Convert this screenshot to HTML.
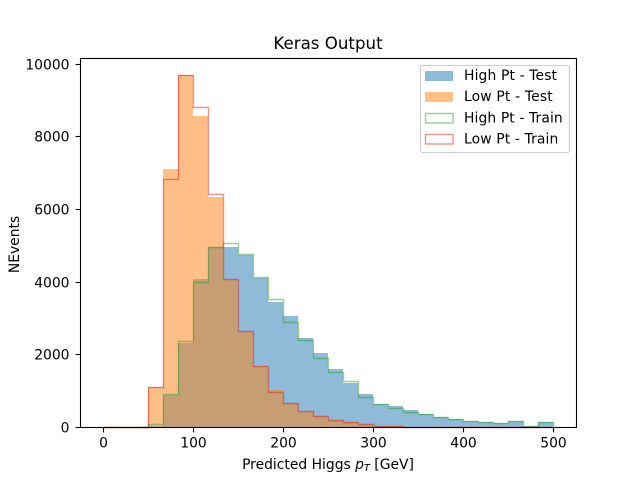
<!DOCTYPE html>
<html>
<head>
<meta charset="utf-8">
<style>
html,body{margin:0;padding:0;background:#fff;}
svg{display:block;}
text{font-family:"DejaVu Sans","Liberation Sans",sans-serif;fill:#000;}
</style>
</head>
<body>
<svg id="chart" xmlns="http://www.w3.org/2000/svg" width="640" height="480" viewBox="0 0 640 480">
  <rect x="0" y="0" width="640" height="480" fill="#fff"/>
  <g id="marks"></g>
  <g id="ticks"></g>
  <rect x="80.5" y="58.5" width="496" height="369" fill="none" stroke="#000" stroke-width="1.11"/>
  <text x="328" y="49" font-size="16.67" text-anchor="middle">Keras Output</text>
  <text x="328" y="469" font-size="13.89" text-anchor="middle">Predicted Higgs <tspan font-style="italic">p</tspan><tspan font-style="italic" font-size="9.7" dy="2">T</tspan><tspan dy="-2"> [GeV]</tspan></text>
  <text x="0" y="0" font-size="13.89" text-anchor="middle" transform="translate(19,244.5) rotate(-90)">NEvents</text>
  <g>
    <rect x="420.5" y="65.5" width="149" height="87" rx="2" fill="#fff" fill-opacity="0.8" stroke="#ccc" stroke-width="1.11"/>
    <rect x="425" y="71" width="28" height="10" fill="#1f77b4" fill-opacity="0.5"/>
    <text x="464" y="80" font-size="13.89" textLength="93" lengthAdjust="spacing">High Pt - Test</text>
    <rect x="425" y="92" width="28" height="10" fill="#ff7f0e" fill-opacity="0.5"/>
    <text x="464" y="101" font-size="13.89" textLength="88.7" lengthAdjust="spacing">Low Pt - Test</text>
    <rect x="425.5" y="113.5" width="27.5" height="9.5" fill="none" stroke="#2ca02c" stroke-opacity="0.5" stroke-width="1.39"/>
    <text x="464" y="122.5" font-size="13.89" textLength="98.7" lengthAdjust="spacing">High Pt - Train</text>
    <rect x="425.5" y="134.5" width="27.5" height="9.5" fill="none" stroke="#d62728" stroke-opacity="0.5" stroke-width="1.39"/>
    <text x="464" y="143.5" font-size="13.89" textLength="94.3" lengthAdjust="spacing">Low Pt - Train</text>
  </g>
</svg>
<script>
const binStart = 0;
const binEnd = 500;
const highTest = [0,0,0,30,885,2325,4070,4965,4965,4735,4100,3450,3055,2450,2032,1592,1224,905,640,575,473,355,272,217,162,135,107,162,20,135];
const lowTest = [0,0,0,1100,7100,9680,8570,6340,4070,2645,1683,1023,675,455,308,206,143,88,41,20,12,6,3,2,1,0,0,0,0,0];
const highTrain = [0,0,0,80,913,2370,3990,4965,5075,4765,4140,3517,2885,2400,1895,1527,1279,840,630,536,407,355,272,217,162,135,107,162,20,135];
const lowTrain = [0,0,0,1115,6820,9680,8800,6405,4070,2650,1690,960,665,445,300,198,135,80,40,20,10,5,3,2,1,0,0,0,0,0];
const xTickValues = [0,100,200,300,400,500];
const yTickValues = [0,2000,4000,6000,8000,10000];

const SVG_NS = 'http://www.w3.org/2000/svg';
const plot = {left:80,right:576,top:57.6,bottom:427.2,xMin:-25,xMax:525,yMin:0,yMax:10164};
function xScale(v){return plot.left+(v-plot.xMin)/(plot.xMax-plot.xMin)*(plot.right-plot.left);}
function yScale(v){return plot.bottom-(v-plot.yMin)/(plot.yMax-plot.yMin)*(plot.bottom-plot.top);}
function snapX(x){return Math.floor(x+0.5)+0.5;}
function snapY(y){return Math.round(y)+0.5;}
function fillX(v){return Math.round(xScale(v));}
function fillY(v){return Math.round(yScale(v));}
function lineX(v){return snapX(xScale(v));}
function lineY(v){return snapY(yScale(v));}
function stepPath(values,px,py){
  const w=(binEnd-binStart)/values.length;
  let d='M'+px(binStart)+' '+py(0);
  values.forEach(function(v,i){
    d+='L'+px(binStart+i*w)+' '+py(v);
    d+='L'+px(binStart+(i+1)*w)+' '+py(v);
  });
  d+='L'+px(binEnd)+' '+py(0);
  return d;
}
const marks=document.getElementById('marks');
const ticks=document.getElementById('ticks');

const highTestPath=document.createElementNS(SVG_NS,'path');


highTestPath.setAttribute('d',stepPath(highTest,fillX,fillY)+'Z');
highTestPath.setAttribute('fill','#1f77b4');
highTestPath.setAttribute('fill-opacity','0.5');
marks.appendChild(highTestPath);

const lowTestPath=document.createElementNS(SVG_NS,'path');


lowTestPath.setAttribute('d',stepPath(lowTest,fillX,fillY)+'Z');
lowTestPath.setAttribute('fill','#ff7f0e');
lowTestPath.setAttribute('fill-opacity','0.5');
marks.appendChild(lowTestPath);

const highTrainPath=document.createElementNS(SVG_NS,'path');


highTrainPath.setAttribute('d',stepPath(highTrain,lineX,lineY));
highTrainPath.setAttribute('fill','none');
highTrainPath.setAttribute('stroke','#2ca02c');
highTrainPath.setAttribute('stroke-opacity','0.5');
highTrainPath.setAttribute('stroke-width','1.39');
marks.appendChild(highTrainPath);

const lowTrainPath=document.createElementNS(SVG_NS,'path');


lowTrainPath.setAttribute('d',stepPath(lowTrain,lineX,lineY));
lowTrainPath.setAttribute('fill','none');
lowTrainPath.setAttribute('stroke','#d62728');
lowTrainPath.setAttribute('stroke-opacity','0.5');
lowTrainPath.setAttribute('stroke-width','1.39');
marks.appendChild(lowTrainPath);

xTickValues.forEach(function(v){
  const x=lineX(v);
  const line=document.createElementNS(SVG_NS,'line');
  
  
  line.setAttribute('x1',x);
  line.setAttribute('x2',x);
  line.setAttribute('y1',427.5);
  line.setAttribute('y2',432.4);
  line.setAttribute('stroke','#000');
  line.setAttribute('stroke-width','1.11');
  ticks.appendChild(line);
  const label=document.createElementNS(SVG_NS,'text');
  
  
  label.setAttribute('x',x);
  label.setAttribute('y',447.5);
  label.setAttribute('font-size','13.89');
  label.setAttribute('text-anchor','middle');
  label.textContent=String(v);
  ticks.appendChild(label);
});

yTickValues.forEach(function(v){
  const y=lineY(v);
  const line=document.createElementNS(SVG_NS,'line');
  
  
  line.setAttribute('x1',75.6);
  line.setAttribute('x2',80.5);
  line.setAttribute('y1',y);
  line.setAttribute('y2',y);
  line.setAttribute('stroke','#000');
  line.setAttribute('stroke-width','1.11');
  ticks.appendChild(line);
  const label=document.createElementNS(SVG_NS,'text');
  
  
  label.setAttribute('x',69.5);
  label.setAttribute('y',y+5);
  label.setAttribute('font-size','13.89');
  label.setAttribute('text-anchor','end');
  label.textContent=String(v);
  ticks.appendChild(label);
});
</script>
</body>
</html>
